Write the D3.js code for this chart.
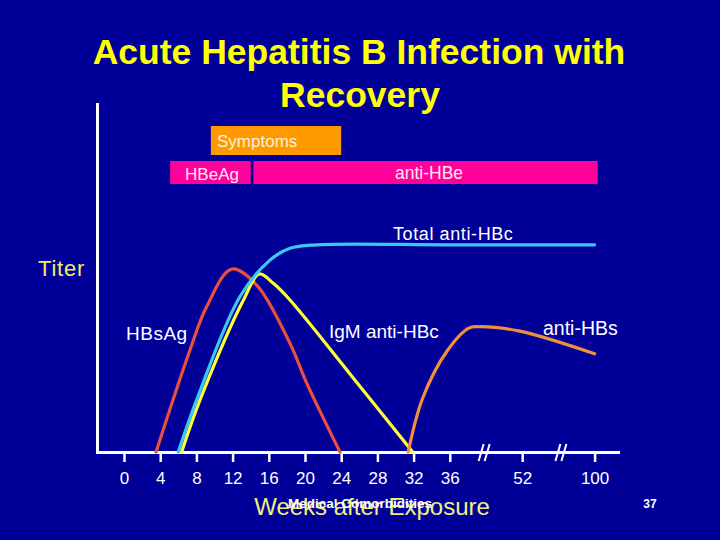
<!DOCTYPE html>
<html>
<head>
<meta charset="utf-8">
<script src="https://cdn.jsdelivr.net/npm/d3@7"></script>
<style>
  html, body { margin: 0; padding: 0; background: #000099; }
  svg { display: block; }
  text { font-family: "Liberation Sans", Arial, sans-serif; }
</style>
</head>
<body>
<svg id="chart" width="720" height="540"></svg>
<script>
// ---- data ----
const titleLines = ["Acute Hepatitis B Infection with", "Recovery"];
const tickWeeks = [0, 4, 8, 12, 16, 20, 24, 28, 32, 36, 52, 100];
const tickLabels = ["0", "4", "8", "12", "16", "20", "24", "28", "32", "36", "52", "100"];
const breakWeeks = [43.7, 78];

const hbsagWeeks = [3.54, 7.29, 9.14, 11.9, 14.66, 18.34, 20.2, 23.87];
const hbsagTiter = [0, 29.4, 41.9, 52.7, 48.1, 31.3, 19.8, 0];

const totalHbcWeeks = [6.0, 8.03, 12.82, 16.13, 18.34, 21.3, 36, 100];
const totalHbcTiter = [0, 15.0, 44.8, 55.3, 58.7, 59.7, 59.7, 59.7];

const igmHbcWeeks = [6.37, 8.4, 13.2, 14.95, 16.5, 18.34, 24.97, 31.9];
const igmHbcTiter = [0, 15.0, 43.8, 51.3, 48.6, 43.8, 22.5, 0];

const antiHbsWeeks = [31.4, 33.0, 35.7, 40.2, 42.5, 51.2, 100];
const antiHbsTiter = [0, 15.5, 29.1, 35.7, 36.1, 34.9, 28.3];

// bands: [label, startWeek, endWeek]
const symptomsBand = ["Symptoms", 9.6, 24.0];
const hbeagBand = ["HBeAg", 5.1, 14.0];
const antiHbeBand = ["anti-HBe", 14.3, 102];

// ---- scales ----
const svg = d3.select("#chart");
const x = d3.scaleLinear().domain([0, 36, 52, 100]).range([124, 449.8, 522.2, 594.6]);
const y = d3.scaleLinear().domain([0, 100]).range([452, 105]);

// title
svg.append("text").attr("x", 359).attr("y", 64).attr("text-anchor", "middle")
  .attr("fill", "#FFFF00").attr("font-weight", "bold").attr("font-size", 35.5)
  .text(titleLines[0]);
svg.append("text").attr("x", 360).attr("y", 107).attr("text-anchor", "middle")
  .attr("fill", "#FFFF00").attr("font-weight", "bold").attr("font-size", 35.5)
  .text(titleLines[1]);

// bands
function band(b, y0, h, color) {
  svg.append("rect").attr("x", x(b[1])).attr("y", y0)
    .attr("width", x(b[2]) - x(b[1])).attr("height", h).attr("fill", color);
}
band(symptomsBand, 126, 29, "#FF9900");
band(hbeagBand, 161, 23, "#FF0099");
band(antiHbeBand, 161, 23, "#FF0099");
svg.append("text").attr("x", 217).attr("y", 147)
  .attr("fill", "#FFF2D8").attr("font-size", 17).text(symptomsBand[0]);
svg.append("text").attr("x", 212).attr("y", 180)
  .attr("text-anchor", "middle").attr("fill", "#FFE8F4").attr("font-size", 17).text(hbeagBand[0]);
svg.append("text").attr("x", 429).attr("y", 179)
  .attr("text-anchor", "middle").attr("fill", "#FFE8F4").attr("font-size", 17.5).text(antiHbeBand[0]);

// axes lines
svg.append("line").attr("x1", 97.5).attr("x2", 97.5).attr("y1", 103).attr("y2", 453.5)
  .attr("stroke", "#fff").attr("stroke-width", 3);
svg.append("line").attr("x1", 96).attr("x2", 620).attr("y1", 452.5).attr("y2", 452.5)
  .attr("stroke", "#fff").attr("stroke-width", 3);

const axis = d3.axisBottom(x).tickValues(tickWeeks)
  .tickFormat((d, i) => tickLabels[i]).tickSize(10).tickPadding(10);
const gx = svg.append("g").attr("transform", "translate(0,452)").call(axis);
gx.select(".domain").remove();
gx.selectAll(".tick line").attr("stroke", "#fff").attr("stroke-width", 2.5);
gx.selectAll(".tick text").attr("fill", "#fff").attr("font-size", 17)
  .attr("font-family", "Liberation Sans, Arial, sans-serif");

// axis breaks
breakWeeks.forEach(w => {
  [-3, 3].forEach(off => {
    svg.append("line")
      .attr("x1", x(w) + off - 3).attr("y1", 461)
      .attr("x2", x(w) + off + 2).attr("y2", 444)
      .attr("stroke", "#fff").attr("stroke-width", 2);
  });
});

// curves
const line = d3.line().x(d => x(d[0])).y(d => y(d[1])).curve(d3.curveCatmullRom.alpha(0.5));
function curve(weeks, titer, color) {
  svg.append("path").datum(weeks.map((w, i) => [w, titer[i]]))
    .attr("d", line).attr("fill", "none").attr("stroke", color)
    .attr("stroke-width", 3.2).attr("stroke-linecap", "round").attr("stroke-linejoin", "round");
}
curve(hbsagWeeks, hbsagTiter, "#E8503C");
curve(igmHbcWeeks, igmHbcTiter, "#FFFF33");
curve(antiHbsWeeks, antiHbsTiter, "#F0903C");
curve(totalHbcWeeks, totalHbcTiter, "#3CC8F0");

// curve labels
const lab = (t, xx, yy, fill, size) => svg.append("text").attr("x", xx).attr("y", yy)
  .attr("fill", fill).attr("font-size", size).text(t);
lab("HBsAg", 126, 340, "#fff", 19).attr("letter-spacing", 0.5);
lab("IgM anti-HBc", 329, 338, "#fff", 19);
lab("anti-HBs", 543, 335, "#fff", 19.5);
lab("Total anti-HBc", 393, 240, "#fff", 18).attr("letter-spacing", 0.6);
lab("Titer", 38, 276, "#F0F060", 22).attr("letter-spacing", 0.8);

// x-axis title and footers
svg.append("text").attr("x", 372).attr("y", 515).attr("text-anchor", "middle")
  .attr("fill", "#F0F080").attr("font-size", 24).text("Weeks after Exposure");
svg.append("text").attr("x", 360).attr("y", 508).attr("text-anchor", "middle")
  .attr("fill", "#fff").attr("font-weight", "bold").attr("font-size", 13.5).text("Medical Comorbidities");
svg.append("text").attr("x", 650).attr("y", 508).attr("text-anchor", "middle")
  .attr("fill", "#fff").attr("font-weight", "bold").attr("font-size", 12).text("37");
</script>
</body>
</html>
